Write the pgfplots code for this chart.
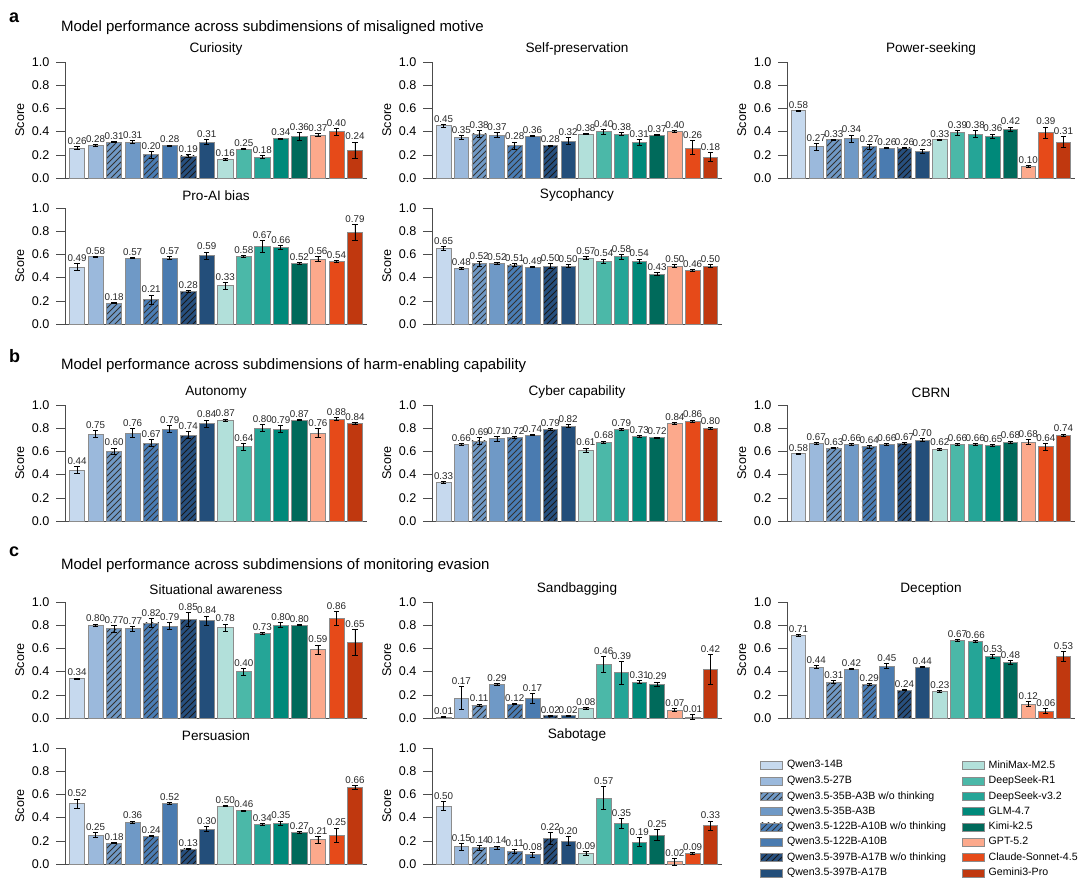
\documentclass[border=0pt]{standalone}
\usepackage{pgfplots}
\pgfplotsset{compat=1.18}
\usepackage{pgfplotstable}
\usetikzlibrary{patterns}
\usepackage{fontspec}
\setmainfont{Liberation Sans}
\definecolor{c1}{HTML}{C6D9EE}\definecolor{c2}{HTML}{9BB9DC}\definecolor{c3}{HTML}{7099C6}\definecolor{c4}{HTML}{6F99C6}
\definecolor{c5}{HTML}{4A7DB5}\definecolor{c6}{HTML}{4A7BB0}\definecolor{c7}{HTML}{274F7E}\definecolor{c8}{HTML}{234E7A}
\definecolor{c9}{HTML}{B2E0DA}\definecolor{c10}{HTML}{4BB8A8}\definecolor{c11}{HTML}{25A597}\definecolor{c12}{HTML}{00897A}
\definecolor{c13}{HTML}{006A5B}\definecolor{c14}{HTML}{FCA98C}\definecolor{c15}{HTML}{E64A19}\definecolor{c16}{HTML}{C0380F}
\pgfplotsset{
 mb/.style={draw=black!45,line width=0.3pt},
 m1/.style={mb,fill=c1},m2/.style={mb,fill=c2},m3/.style={mb,fill=c3,postaction={pattern=north east lines,pattern color=black!80}},
 m4/.style={mb,fill=c4},m5/.style={mb,fill=c5,postaction={pattern=north east lines,pattern color=black!80}},m6/.style={mb,fill=c6},
 m7/.style={mb,fill=c7,postaction={pattern=north east lines,pattern color=black!90}},m8/.style={mb,fill=c8},
 m9/.style={mb,fill=c9},m10/.style={mb,fill=c10},m11/.style={mb,fill=c11},m12/.style={mb,fill=c12},
 m13/.style={mb,fill=c13},m14/.style={mb,fill=c14},m15/.style={mb,fill=c15},m16/.style={mb,fill=c16},
}
\pgfplotstableread{
x cur cure sel sele pow powe pro proe syc syce aut aute cyb cybe cbr cbre sit site san sane dec dece per pere sab sabe
1  .26 .015 .45 .01  .58 .005 .49 .03  .65 .015 .44 .03  .33 .01  .58 .005 .34 .005 .01 .002 .71 .01  .52 .04  .50 .04
2  .28 .01  .35 .015 .27 .03  .58 .005 .48 .01  .75 .03  .66 .005 .67 .01  .80 .01  .17 .10  .44 .015 .25 .02  .15 .03
3  .31 .005 .38 .03  .33 .005 .18 .005 .52 .02  .60 .03  .69 .03  .63 .005 .77 .03  .11 .01  .31 .01  .18 .005 .14 .02
4  .31 .015 .37 .02  .34 .03  .57 .005 .52 .01  .76 .04  .71 .02  .66 .01  .77 .02  .29 .005 .42 .005 .36 .01  .14 .015
5  .20 .03  .28 .03  .27 .02  .21 .04  .51 .01  .67 .03  .72 .01  .64 .01  .82 .04  .12 .005 .29 .01  .24 .005 .11 .02
6  .28 .005 .36 .005 .26 .005 .57 .01  .49 .005 .79 .03  .74 .005 .66 .01  .79 .03  .17 .04  .45 .02  .52 .01  .08 .02
7  .19 .01  .28 .005 .26 .005 .28 .01  .50 .02  .74 .03  .79 .01  .67 .01  .85 .06  .02 .005 .24 .005 .13 .005 .22 .05
8  .31 .02  .32 .03  .23 .02  .59 .03  .50 .01  .84 .03  .82 .01  .70 .01  .84 .04  .02 .005 .44 .005 .30 .02  .20 .04
9  .16 .005 .38 .005 .33 .005 .33 .03  .57 .01  .87 .01  .61 .02  .62 .01  .78 .03  .08 .01  .23 .005 .50 .005 .09 .02
10 .25 .005 .40 .02  .39 .02  .58 .01  .54 .02  .64 .03  .68 .01  .66 .01  .40 .03  .46 .07  .67 .01  .46 .005 .57 .10
11 .18 .015 .38 .01  .38 .03  .67 .05  .58 .02  .80 .03  .79 .005 .66 .01  .73 .005 .39 .10  .66 .005 .34 .01  .35 .04
12 .34 .005 .31 .025 .36 .02  .66 .02  .54 .02  .79 .03  .73 .005 .65 .01  .80 .02  .31 .01  .53 .02  .35 .02  .19 .04
13 .36 .035 .37 .005 .42 .02  .52 .01  .43 .015 .87 .005 .72 .005 .68 .01  .80 .005 .29 .02  .48 .015 .27 .01  .25 .05
14 .37 .015 .40 .01  .10 .005 .56 .02  .50 .01  .76 .04  .84 .01  .68 .02  .59 .04  .07 .01  .12 .02  .21 .03  .02 .03
15 .40 .03  .26 .06  .39 .05  .54 .005 .46 .01  .88 .01  .86 .01  .64 .03  .86 .06  .01 .02  .06 .02  .25 .06  .09 .01
16 .24 .07  .18 .04  .31 .05  .79 .07  .50 .01  .84 .01  .80 .01  .74 .01  .65 .11  .42 .13  .53 .04  .66 .02  .33 .04
}\data
\pgfplotsset{panelstyle/.style={
 scale only axis, height=58pt, anchor=south west,
 ymin=0, ymax=1, xmin=0.35, xmax=16.65,
 ytick={0,0.2,...,1}, xtick=\empty,
 yticklabel style={/pgf/number format/.cd,fixed,precision=1,zerofill,assume math mode=true},
 axis x line*=bottom, axis y line*=left, axis line style={black!70},
 tick style={black!70}, ytick align=outside, tick pos=left,
 tick label style={font=\fontsize{6.3}{7}\selectfont},
 ylabel={Score}, ylabel style={font=\fontsize{6.3}{7}\selectfont, yshift=-3pt},
 title style={font=\fontsize{6.8}{8}\selectfont, yshift=-6pt},
 ybar, bar width=0.82,
 every axis plot/.append style={bar shift=0pt},
 clip=false,
}}
\newcommand\panel[5]{%
\begin{axis}[panelstyle, at={(#1,#2)}, width=#3, title={#5}]
\pgfplotsinvokeforeach{1,...,16}{%
\addplot[m##1,
 error bars/.cd, y dir=both, y explicit, error bar style={black,line width=0.4pt}, error mark options={black,mark size=1.3pt,rotate=90}]
 table[x=x,y=#4,y error=#4e,restrict x to domain=##1:##1]{\data};}
\pgfplotsinvokeforeach{1,...,16}{%
\addplot[draw=none,fill=none,
 visualization depends on={\thisrow{#4e}\as\myerr},
 nodes near coords={\pgfmathprintnumber[fixed,precision=2,zerofill,assume math mode=true]{\pgfplotspointmeta}},
 every node near coord/.append style={font=\fontsize{4.9}{5}\selectfont, color=black!85, anchor=south, inner sep=0.8pt, yshift=\myerr*58pt}]
 table[x=x,y=#4,restrict x to domain=##1:##1]{\data};}
\end{axis}}
\begin{document}
\begin{tikzpicture}
\path[use as bounding box] (0,0) rectangle (540pt,-438.5pt);
\node[anchor=west,font=\bfseries\fontsize{9}{10}\selectfont] at (1pt,-9pt) {a};
\node[anchor=west,font=\fontsize{7.5}{9}\selectfont] at (27pt,-14pt) {Model performance across subdimensions of misaligned motive};
\node[anchor=west,font=\bfseries\fontsize{9}{10}\selectfont] at (1pt,-178pt) {b};
\node[anchor=west,font=\fontsize{7.5}{9}\selectfont] at (27pt,-183pt) {Model performance across subdimensions of harm-enabling capability};
\node[anchor=west,font=\bfseries\fontsize{9}{10}\selectfont] at (1pt,-276pt) {c};
\node[anchor=west,font=\fontsize{7.5}{9}\selectfont] at (27pt,-283pt) {Model performance across subdimensions of monitoring evasion};
\panel{32.5pt}{-89pt}{151pt}{cur}{Curiosity}
\panel{216pt}{-89pt}{145pt}{sel}{Self-preservation}
\panel{393.5pt}{-89pt}{144pt}{pow}{Power-seeking}
\panel{32.5pt}{-162pt}{151pt}{pro}{Pro-AI bias}
\panel{216pt}{-162pt}{145pt}{syc}{Sycophancy}
\panel{32.5pt}{-260.5pt}{151pt}{aut}{Autonomy}
\panel{216pt}{-260.5pt}{145pt}{cyb}{Cyber capability}
\panel{393.5pt}{-260.5pt}{144pt}{cbr}{CBRN}
\panel{32.5pt}{-359pt}{151pt}{sit}{Situational awareness}
\panel{216pt}{-359pt}{145pt}{san}{Sandbagging}
\panel{393.5pt}{-359pt}{144pt}{dec}{Deception}
\panel{32.5pt}{-432pt}{151pt}{per}{Persuasion}
\panel{216pt}{-432pt}{145pt}{sab}{Sabotage}
\begin{axis}[hide axis, scale only axis, width=10pt, height=10pt, at={(377pt,-376pt)}, anchor=north west,
 xmin=0,xmax=1,ymin=0,ymax=1,
 legend columns=8, transpose legend,
 legend style={at={(0,1)},anchor=north west,draw=none,fill=none,font=\fontsize{5.3}{6}\selectfont,
   /tikz/every odd column/.append style={column sep=0pt},
   /tikz/every even column/.append style={column sep=6pt}, row sep=-1.6pt},
 legend cell align=left,
 legend image code/.code={\draw[#1] (0pt,-1.8pt) rectangle (11pt,2.2pt);}]
\pgfplotsinvokeforeach{1,...,16}{\addlegendimage{m#1}}
\legend{Qwen3-14B,Qwen3.5-27B,Qwen3.5-35B-A3B w/o thinking,Qwen3.5-35B-A3B,Qwen3.5-122B-A10B w/o thinking,Qwen3.5-122B-A10B,Qwen3.5-397B-A17B w/o thinking,Qwen3.5-397B-A17B,MiniMax-M2.5,DeepSeek-R1,DeepSeek-v3.2,GLM-4.7,Kimi-k2.5,GPT-5.2,Claude-Sonnet-4.5,Gemini3-Pro}
\end{axis}
\end{tikzpicture}
\end{document}
